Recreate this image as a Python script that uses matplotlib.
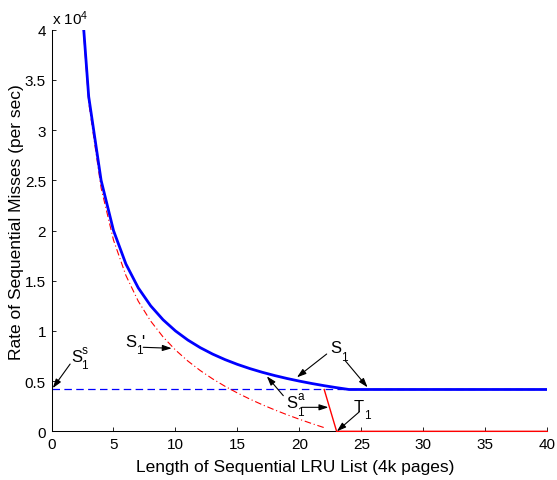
import matplotlib
matplotlib.use('Agg')
import matplotlib.pyplot as plt

plt.rcParams['font.family'] = ['Liberation Sans', 'DejaVu Sans']
plt.rcParams['mathtext.fontset'] = 'custom'
plt.rcParams['mathtext.rm'] = 'Liberation Sans'
plt.rcParams['mathtext.it'] = 'Liberation Sans:italic'

# S1: rate of sequential misses (per sec) vs list length (4k pages)
list_len = list(range(1, 41))
s1 = [100000, 50000, 33333, 25000, 20000, 16667, 14286, 12500, 11111, 10000,
      9091, 8333, 7692, 7143, 6667, 6250, 5882, 5556, 5263, 5000,
      4762, 4545, 4348, 4167, 4167, 4167, 4167, 4167, 4167, 4167,
      4167, 4167, 4167, 4167, 4167, 4167, 4167, 4167, 4167, 4167]

# S1' (dash-dot curve)
s1p_len = list(range(1, 23))
s1p = [99810, 49620, 32763, 24240, 19050, 15527, 12956, 10980, 9401, 8100,
       7001, 6053, 5222, 4483, 3817, 3210, 2652, 2136, 1653, 1200,
       772, 365]

# S1^s (dashed level)
s1s_len = [0, 40]
s1s = [4167, 4167]

# T1
t1_len = list(range(22, 41))
t1 = [4167, 0, 0, 0, 0, 0, 0, 0, 0, 0, 0, 0, 0, 0, 0, 0, 0, 0, 0]

xticks = [0, 5, 10, 15, 20, 25, 30, 35, 40]
yticks = [0, 5000, 10000, 15000, 20000, 25000, 30000, 35000, 40000]
ytick_labels = ['0', '0.5', '1', '1.5', '2', '2.5', '3', '3.5', '4']

fig = plt.figure(figsize=(5.57, 4.81), dpi=100)
ax = fig.add_axes([0.0925, 0.1012, 0.8901, 0.8349])

ax.plot(s1s_len, s1s, color='b', lw=0.9, linestyle=(0, (6, 3.5)))
ax.plot(s1p_len, s1p, color='r', lw=0.8, linestyle=(0, (6, 2.5, 1, 2.5)))
ax.plot(t1_len, t1, color='r', lw=1.0, clip_on=False, zorder=3)
ax.plot(list_len, s1, color='b', lw=2.0, zorder=4)

ax.set_xlim(0, 40)
ax.set_ylim(0, 40000)
ax.set_xticks(xticks)
ax.set_yticks(yticks)
ax.set_yticklabels(ytick_labels)
ax.tick_params(direction='in', length=3, width=0.6, labelsize=11, pad=4)
for side in ['top', 'right']:
    ax.spines[side].set_visible(False)
for side in ['left', 'bottom']:
    ax.spines[side].set_linewidth(0.75)

ax.set_xlabel('Length of Sequential LRU List (4k pages)', fontsize=12.5)
ax.set_ylabel('Rate of Sequential Misses (per sec)', fontsize=12.5)
ax.xaxis.set_label_coords(0.4917, -0.068)
ax.yaxis.set_label_coords(-0.056, 0.524)
ax.text(0, 1.0142, r'x $10^4$', transform=ax.transAxes, fontsize=11,
        ha='left', va='baseline')

arrow = dict(arrowstyle='-|>,head_length=0.55,head_width=0.18', color='k',
             lw=0.8, mutation_scale=10, shrinkA=0, shrinkB=0)


def symbol(x, y, main, sup=None, prime=False):
    # letter with subscript 1, like MATLAB's S_1
    ax.text(x, y, main, fontsize=12, va='baseline')
    w = 7.6 if main == 'S' else 7.0
    ax.annotate('1', (x, y), xytext=(w, -5.2), textcoords='offset points',
                fontsize=8.5, va='baseline')
    if sup:
        ax.annotate(sup, (x, y), xytext=(w + 0.3, 5.8), textcoords='offset points',
                    fontsize=8.5, va='baseline')
    if prime:
        ax.annotate("'", (x, y), xytext=(w + 4.2, 0), textcoords='offset points',
                    fontsize=12, va='baseline')


# S1^s
ax.annotate('', xy=(0.1, 4300), xytext=(1.5, 6700), arrowprops=arrow)
symbol(1.57, 7000, 'S', sup='s')
# S1'
ax.annotate('', xy=(9.7, 8270), xytext=(7.4, 8370), arrowprops=arrow)
symbol(5.93, 8530, 'S', prime=True)
# S1
ax.annotate('', xy=(19.8, 5380), xytext=(22.2, 7700), arrowprops=arrow)
ax.annotate('', xy=(25.5, 4380), xytext=(23.7, 7030), arrowprops=arrow)
symbol(22.48, 7870, 'S')
# S1^a
ax.annotate('', xy=(17.37, 5480), xytext=(18.7, 3550), arrowprops=arrow)
ax.annotate('', xy=(22.34, 2390), xytext=(20.19, 2390), arrowprops=arrow)
symbol(18.93, 2390, 'S', sup='a')
# T1
ax.annotate('', xy=(23.02, 0), xytext=(24.84, 1950), arrowprops=arrow)
symbol(24.41, 2050, 'T')

fig.savefig('out.png', dpi=100)
